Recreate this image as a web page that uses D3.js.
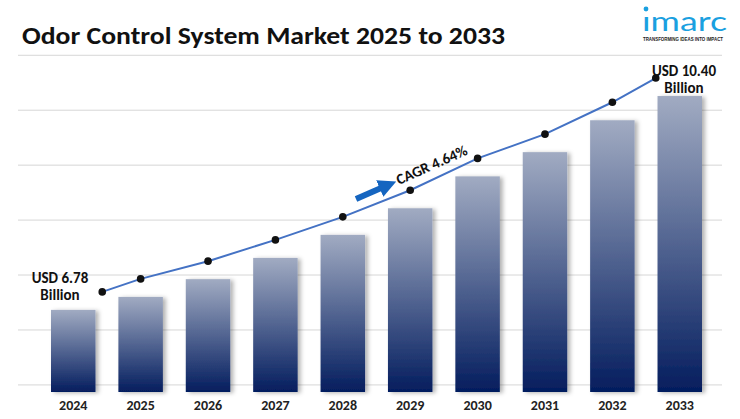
<!DOCTYPE html>
<html><head><meta charset="utf-8">
<script src="https://cdn.jsdelivr.net/npm/d3@7"></script>
<style>body{margin:0;background:#fff}svg{display:block;font-family:Calibri,"Liberation Sans Narrow","Open Sans",sans-serif}</style>
</head><body><svg id="c" width="740" height="419"></svg>
<script>
var years = ["2024","2025","2026","2027","2028","2029","2030","2031","2032","2033"];
var values = [6.78, 7.00, 7.30, 7.66, 8.05, 8.50, 9.04, 9.45, 9.99, 10.40];
var gridVals = [5.51, 6.44, 7.37, 8.30, 9.23, 10.16, 11.09];

var svg = d3.select("#c");
var x = d3.scaleBand().domain(years).range([51, 702]).paddingInner(0.34).paddingOuter(0);
var y = d3.scaleLinear().domain([5.39, 11.23]).range([392, 47]);

var defs = svg.append("defs");
var g = defs.append("linearGradient").attr("id", "bg").attr("x1", 0).attr("x2", 0).attr("y1", 0).attr("y2", 1);
g.append("stop").attr("offset", "0%").attr("stop-color", "#a1abc2");
g.append("stop").attr("offset", "55%").attr("stop-color", "#4a5d8c");
g.append("stop").attr("offset", "100%").attr("stop-color", "#041d5e");
var f = defs.append("filter").attr("id", "sh").attr("x", "-20%").attr("width", "150%");
f.append("feDropShadow").attr("dx", 3).attr("dy", 1).attr("stdDeviation", 2).attr("flood-color", "#000").attr("flood-opacity", 0.3);
defs.append("marker").attr("id", "ah").attr("viewBox", "0 0 10 10").attr("refX", 5).attr("refY", 5)
  .attr("markerWidth", 3).attr("markerHeight", 3).attr("orient", "auto")
  .append("path").attr("d", "M0,0L10,5L0,10Z").attr("fill", "#1565c0");

svg.selectAll(".grid").data(gridVals).enter().append("line")
  .attr("x1", 18).attr("x2", 722).attr("y1", d => y(d)).attr("y2", d => y(d))
  .attr("stroke", "#d6d6d6").attr("stroke-width", 1);

svg.append("text").attr("x", 22).attr("y", 44).attr("font-size", 25).attr("font-weight", "bold")
  .attr("textLength", 483).attr("lengthAdjust", "spacingAndGlyphs")
  .attr("fill", "#111").text("Odor Control System Market 2025 to 2033");

svg.selectAll(".bar").data(values).enter().append("rect")
  .attr("x", (d, i) => x(years[i])).attr("width", x.bandwidth())
  .attr("y", d => y(d)).attr("height", d => y.range()[0] - y(d))
  .attr("fill", "url(#bg)").attr("filter", "url(#sh)");

svg.selectAll(".yr").data(years).enter().append("text")
  .attr("x", d => x(d) + x.bandwidth() / 2).attr("y", 410).attr("text-anchor", "middle")
  .attr("font-size", 14).attr("font-weight", "bold").attr("fill", "#222").text(d => d);

var lx = (d, i) => x(years[i]) + x.bandwidth() / 2 + (i === 0 ? 29 : i === years.length - 1 ? -24 : 0);
var ly = d => y(d) - 18;
svg.append("path").datum(values)
  .attr("d", d3.line().x(lx).y(ly))
  .attr("fill", "none").attr("stroke", "#4472c4").attr("stroke-width", 2);
svg.selectAll(".pt").data(values).enter().append("circle")
  .attr("cx", lx).attr("cy", ly).attr("r", 3.8).attr("fill", "#111");

svg.append("text").attr("x", 60).attr("y", 283).attr("text-anchor", "middle").attr("font-size", 15)
  .attr("font-weight", "bold").attr("fill", "#111")
  .selectAll("tspan").data(["USD " + values[0], "Billion"]).enter().append("tspan")
  .attr("x", 60).attr("dy", (d, i) => i ? 17 : 0).text(d => d);
svg.append("text").attr("x", 684).attr("y", 76).attr("text-anchor", "middle").attr("font-size", 15)
  .attr("font-weight", "bold").attr("fill", "#111")
  .selectAll("tspan").data(["USD " + values[9].toFixed(2), "Billion"]).enter().append("tspan")
  .attr("x", 684).attr("dy", (d, i) => i ? 17 : 0).text(d => d);

svg.append("line").attr("x1", 356).attr("y1", 199).attr("x2", 388).attr("y2", 185)
  .attr("stroke", "#1565c0").attr("stroke-width", 6).attr("marker-end", "url(#ah)");
svg.append("text").attr("transform", "translate(399,185) rotate(-24)").attr("font-size", 15)
  .attr("font-weight", "bold").attr("fill", "#111").text("CAGR 4.64%");

svg.append("circle").attr("cx", 646).attr("cy", 9).attr("r", 2.4).attr("fill", "#1aa0e0");
svg.append("text").attr("x", 642).attr("y", 31).attr("font-size", 27).attr("font-family", "Lato, sans-serif")
  .attr("textLength", 85).attr("lengthAdjust", "spacingAndGlyphs")
  .attr("fill", "#1aa0e0").text("ımarc");
svg.append("text").attr("x", 643).attr("y", 41).attr("font-size", 4.6).attr("font-weight", "bold")
  .attr("textLength", 80).attr("lengthAdjust", "spacingAndGlyphs")
  .attr("font-family", "Liberation Sans, sans-serif").attr("fill", "#222").text("TRANSFORMING IDEAS INTO IMPACT");
</script></body></html>
